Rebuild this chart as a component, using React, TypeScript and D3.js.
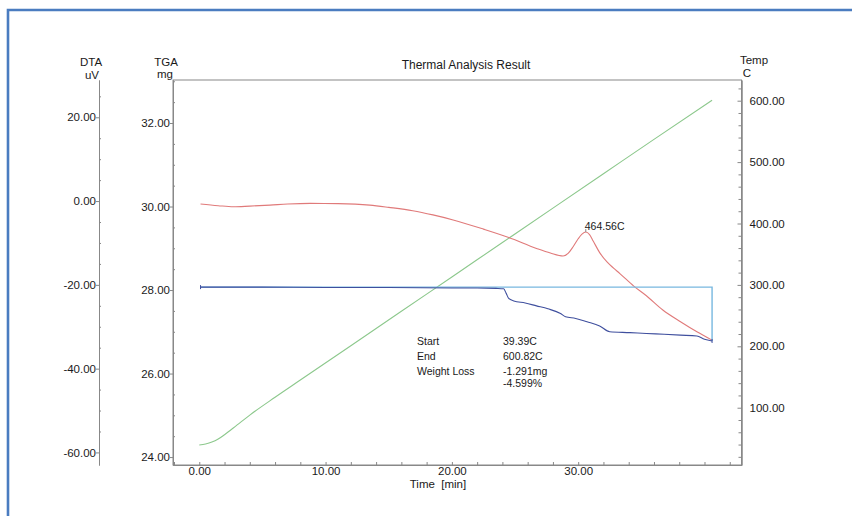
import React, { useEffect, useRef } from "react";
import * as d3 from "d3";

// thermal analysis (DTA / TGA / temperature) vs time

// temperature program (green, right axis)
const tempTime = [0, 0.5, 1, 1.5, 2, 3, 4, 6, 8, 12, 16, 20, 24, 28, 32, 36, 40.6];
const tempC = [39.4, 41, 44, 49, 56, 72, 88, 117, 145, 201, 257, 313, 369, 425, 481, 537, 600.8];

// DTA signal (red, far left axis)
const dtaTime = [
  0.1, 1.5, 2.7, 4, 5.6, 7, 8.8, 11, 13.5, 15, 16.9, 18.5, 20.1, 22.5, 24.5, 26.7, 27.8, 28.8, 29.2,
  29.6, 30.0, 30.3, 30.6, 30.9, 31.2, 31.7, 32.3, 32.8, 33.3, 34.4, 35.4, 36.7, 38.1, 39.4, 40.6,
];
const dtaUv = [
  -0.7, -1.1, -1.36, -1.2, -0.96, -0.7, -0.55, -0.6, -0.96, -1.5, -2.3, -3.3, -4.5, -6.7, -8.7, -11.3,
  -12.4, -13.1, -12.5, -10.9, -9.0, -7.9, -7.4, -8.0, -9.6, -12.3, -14.6, -16.0, -17.3, -20.3, -22.6,
  -26.0, -28.8, -31.2, -33.2,
];

// TGA weight (dark blue, second left axis)
const tgaTime = [
  0.1, 5, 10, 15, 20, 22, 23.5, 24.1, 24.3, 24.5, 24.9, 25.8, 26.7, 27.6, 28.6, 29, 29.8, 30.7, 31.7,
  32.5, 34.1, 35.4, 36.8, 38.1, 39.4, 40.0, 40.6,
];
const tgaMg = [
  28.07, 28.07, 28.06, 28.06, 28.05, 28.05, 28.04, 28.03, 27.92, 27.8, 27.74, 27.69, 27.62, 27.55, 27.44,
  27.36, 27.32, 27.24, 27.14, 27.0, 26.98, 26.96, 26.94, 26.92, 26.9, 26.82, 26.78,
];

// tick labels
const timeTicks = [0, 10, 20, 30];
const dtaTicks = [20, 0, -20, -40, -60];
const tgaTicks = [32, 30, 28, 26, 24];
const tempTicks = [600, 500, 400, 300, 200, 100];

// annotations
const peakTime = 30.6;
const peakLabel = "464.56C";
const statNames = ["Start", "End", "Weight Loss"];
const statValues = ["39.39C", "600.82C", "-1.291mg", "-4.599%"];

const FONT = "'Liberation Sans', Arial, sans-serif";

const App = () => {
  const svgRef = useRef<SVGSVGElement>(null);

  useEffect(() => {
    const svg = d3.select(svgRef.current);
    svg.selectAll("*").remove();

    const left = 173;
    const right = 741.5;
    const top = 80;
    const bottom = 465;
    const dtaX = 99;

    //scales
    const x = d3.scaleLinear().domain([-2.08, 42.93]).range([left, right]);
    const yDta = d3.scaleLinear().domain([28.9, -63.0]).range([top, bottom]);
    const yTga = d3.scaleLinear().domain([33.03, 23.81]).range([top, bottom]);
    const yTemp = d3.scaleLinear().domain([633.7, 6.7]).range([top, bottom]);

    //blue frame of the scanned page
    svg.append("path")
      .attr("d", "M8,516 L8,10 L852,10")
      .attr("fill", "none")
      .attr("stroke", "#4a7cc0")
      .attr("stroke-width", 2.6);

    //plot box
    svg.append("rect")
      .attr("x", left)
      .attr("y", top)
      .attr("width", right - left)
      .attr("height", bottom - top)
      .attr("fill", "none")
      .attr("stroke", "#888")
      .attr("stroke-width", 1);

    //plain hyphen for negatives, like the print
    const fmt = (d) => Number(d).toFixed(2);
    const styleAxis = (g) => {
      g.selectAll("path").attr("stroke", "#888");
      g.selectAll("line").attr("stroke", "#888");
      g.selectAll("text").attr("fill", "#1a1a1a").style("font-family", FONT).style("font-size", "11.5px");
    };
    const minor = (step, [a, b], majors) =>
      d3.range(Math.ceil(a / step) * step, b + 1e-9, step).filter((v) => !majors.some((m) => Math.abs(m - v) < 1e-6));

    //DTA axis
    svg.append("g")
      .attr("transform", `translate(${dtaX},0)`)
      .call(d3.axisLeft(yDta).tickValues(dtaTicks).tickFormat(fmt).tickSize(3).tickSizeOuter(0).tickPadding(0))
      .call(styleAxis);
    svg.append("g")
      .attr("transform", `translate(${dtaX},0)`)
      .call(d3.axisLeft(yDta).tickValues(minor(5, [-63, 28.9], dtaTicks)).tickFormat("").tickSize(-2).tickSizeOuter(0))
      .call(styleAxis);

    //TGA axis
    svg.append("g")
      .attr("transform", `translate(${left},0)`)
      .call(d3.axisLeft(yTga).tickValues(tgaTicks).tickFormat(fmt).tickSize(3).tickSizeOuter(0).tickPadding(0))
      .call(styleAxis);
    svg.append("g")
      .attr("transform", `translate(${left},0)`)
      .call(d3.axisLeft(yTga).tickValues(minor(0.5, [23.81, 33.03], tgaTicks)).tickFormat("").tickSize(-2).tickSizeOuter(0))
      .call(styleAxis);

    //temperature axis (ticks point into the plot)
    svg.append("g")
      .attr("transform", `translate(${right},0)`)
      .call(d3.axisRight(yTemp).tickValues(tempTicks).tickFormat(fmt).tickSize(-4).tickSizeOuter(0).tickPadding(8))
      .call(styleAxis);
    svg.append("g")
      .attr("transform", `translate(${right},0)`)
      .call(d3.axisRight(yTemp).tickValues(minor(20, [6.7, 633.7], tempTicks)).tickFormat("").tickSize(-3).tickSizeOuter(0))
      .call(styleAxis);

    //time axis
    svg.append("g")
      .attr("transform", `translate(0,${bottom})`)
      .call(d3.axisBottom(x).tickValues(timeTicks).tickFormat(fmt).tickSize(-3).tickSizeOuter(0).tickPadding(2))
      .call(styleAxis);
    svg.append("g")
      .attr("transform", `translate(0,${bottom})`)
      .call(d3.axisBottom(x).tickValues(minor(2, [-2.08, 42.93], timeTicks)).tickFormat("").tickSize(-3).tickSizeOuter(0))
      .call(styleAxis);

    //axis titles
    const label = (tx, ty, txt, size = 11.5, anchor = "middle") =>
      svg.append("text")
        .attr("x", tx)
        .attr("y", ty)
        .attr("text-anchor", anchor)
        .attr("fill", "#1a1a1a")
        .style("font-family", FONT)
        .style("font-size", `${size}px`)
        .style("white-space", "pre")
        .text(txt);

    label(91, 66, "DTA");
    label(92, 78.5, "uV");
    label(166, 66, "TGA");
    label(165, 78, "mg");
    label(754, 64, "Temp");
    label(747, 77, "C");
    label(466, 69, "Thermal Analysis Result", 12);
    label(438, 488, "Time  [min]");

    //lines
    const lineOf = (ts, vs, yS) =>
      d3.line().x((d) => x(ts[d])).y((d) => yS(vs[d])).curve(d3.curveMonotoneX)(d3.range(ts.length));

    svg.append("path")
      .attr("d", lineOf(tempTime, tempC, yTemp))
      .attr("fill", "none")
      .attr("stroke", "#8cc88c")
      .attr("stroke-width", 1.1);

    svg.append("path")
      .attr("d", lineOf(dtaTime, dtaUv, yDta))
      .attr("fill", "none")
      .attr("stroke", "#e07a7a")
      .attr("stroke-width", 1.1);

    //weight loss bracket (start level to end)
    const tStart = tgaTime[0];
    const tEnd = tgaTime[tgaTime.length - 1];
    svg.append("path")
      .attr("d", `M${x(tStart)},${yTga(tgaMg[0])} L${x(tEnd)},${yTga(tgaMg[0])} L${x(tEnd)},${yTga(tgaMg[tgaMg.length - 1])}`)
      .attr("fill", "none")
      .attr("stroke", "#78b8e0")
      .attr("stroke-width", 1.4);

    svg.append("path")
      .attr("d", lineOf(tgaTime, tgaMg, yTga))
      .attr("fill", "none")
      .attr("stroke", "#3f4f9e")
      .attr("stroke-width", 1.1);

    //small markers at start / end of the TGA step
    [[tStart, tgaMg[0]], [tEnd, tgaMg[tgaMg.length - 1]]].forEach(([t, m]) => {
      svg.append("line")
        .attr("x1", x(t)).attr("x2", x(t))
        .attr("y1", yTga(m) - 2).attr("y2", yTga(m) + 2)
        .attr("stroke", "#3f4f9e");
    });

    //peak annotation
    const peakIdx = dtaTime.indexOf(peakTime);
    const px = x(peakTime);
    const py = yDta(dtaUv[peakIdx]);
    svg.append("line")
      .attr("x1", px).attr("x2", px)
      .attr("y1", py - 3).attr("y2", py)
      .attr("stroke", "#888");
    label(px - 1, py - 2, peakLabel, 10.5, "start");

    //weight loss table
    const colA = 417;
    const colB = 503;
    statNames.forEach((s, i) => label(colA, 345 + i * 15, s, 10.5, "start"));
    statValues.forEach((s, i) => label(colB, 345 + i * 15 - (i === 3 ? 3 : 0), s, 10.5, "start"));
  }, []);

  return (
    <svg
      ref={svgRef}
      width={852}
      height={516}
      style={{ position: "absolute", left: 0, top: 0, background: "#fff" }}
    />
  );
};

export default App;
